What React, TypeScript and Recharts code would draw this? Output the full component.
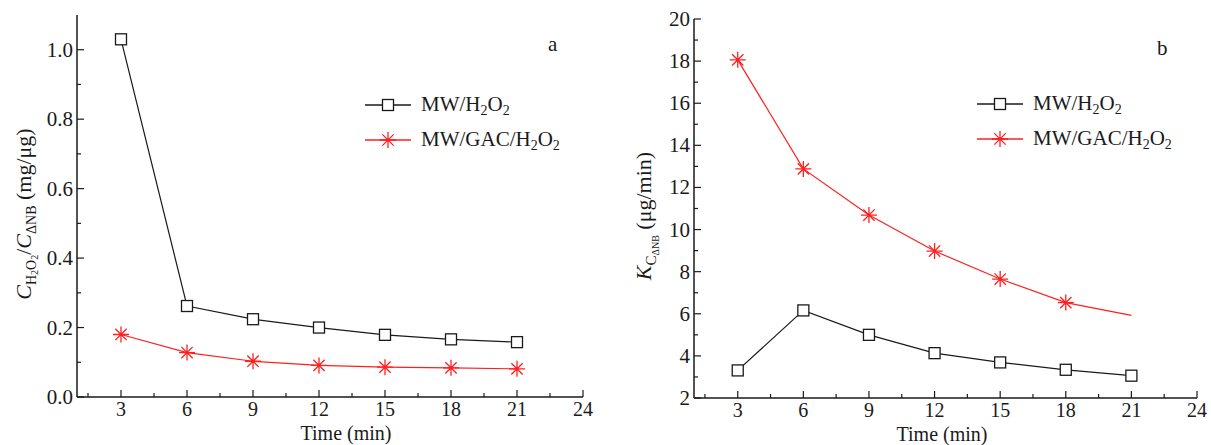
import React from 'react'
import { LineChart, Line, XAxis, YAxis, Legend } from 'recharts'

const times = [3, 6, 9, 12, 15, 18, 21]
// panel a: C(H2O2)/C(ΔNB), mg/µg
const ratioMw = [1.03, 0.262, 0.224, 0.2, 0.179, 0.166, 0.158]
const ratioGac = [0.18, 0.128, 0.103, 0.091, 0.086, 0.084, 0.081]
// panel b: K, µg/min
const rateMw = [3.31, 6.16, 5.0, 4.13, 3.69, 3.34, 3.06]
const rateGac = [18.06, 12.88, 10.69, 8.98, 7.65, 6.53, 5.92]

const timeMajor = [3, 6, 9, 12, 15, 18, 21, 24]
const timeMinor = [1.5, 4.5, 7.5, 10.5, 13.5, 16.5, 19.5, 22.5]
const ratioMajor = [0, 0.2, 0.4, 0.6, 0.8, 1.0]
const ratioMinor = [0.1, 0.3, 0.5, 0.7, 0.9]
const rateMajor = [2, 4, 6, 8, 10, 12, 14, 16, 18, 20]
const rateMinor = [3, 5, 7, 9, 11, 13, 15, 17, 19]

const FONT = '"Liberation Serif", "Times New Roman", serif'
const INK = '#1a1a1a'
const RED = '#ff1f1f'

const ratioRows = times.map((t, i) => ({ time: t, mw: ratioMw[i], gac: ratioGac[i] }))
const rateRows = times.map((t, i) => ({ time: t, mw: rateMw[i], gac: rateGac[i] }))

const allTicks = (a: number[], b: number[]) => [...a, ...b].sort((p, q) => p - q)

function makeTick(side: string, major: number[], fmt: (v: number) => string) {
  return (props: any) => {
    const { x, y, payload } = props
    const v = payload.value
    const isMajor = major.some((m) => Math.abs(m - v) < 1e-9)
    const len = isMajor ? 7 : 4
    let line
    let label = null
    if (side === 'bottom') {
      line = <line x1={x} y1={y} x2={x} y2={y - len} stroke={INK} strokeWidth={1.2} />
      if (isMajor)
        label = (
          <text x={x} y={y + 19} textAnchor="middle" fontSize={20} fontFamily={FONT} fill={INK}>
            {fmt(v)}
          </text>
        )
    } else if (side === 'left') {
      line = <line x1={x} y1={y} x2={x + len} y2={y} stroke={INK} strokeWidth={1.2} />
      if (isMajor)
        label = (
          <text x={x - 4} y={y + 7} textAnchor="end" fontSize={21} fontFamily={FONT} fill={INK}>
            {fmt(v)}
          </text>
        )
    } else if (side === 'top') {
      line = <line x1={x} y1={y} x2={x} y2={y + len - 2} stroke={INK} strokeWidth={1.2} />
    } else {
      line = <line x1={x} y1={y} x2={x - len + 2} y2={y} stroke={INK} strokeWidth={1.2} />
    }
    return (
      <g>
        {line}
        {label}
      </g>
    )
  }
}

const Square = (props: any) => {
  const { cx, cy } = props
  if (cx == null || cy == null) return <g />
  return <rect x={cx - 5.5} y={cy - 5.5} width={11} height={11} fill="#fff" stroke={INK} strokeWidth={1.3} />
}

const starPath = (cx: number, cy: number, r: number) => {
  const d = r * 0.7071
  return `M${cx - r},${cy}L${cx + r},${cy}M${cx},${cy - r}L${cx},${cy + r}M${cx - d},${cy - d}L${cx + d},${cy + d}M${cx - d},${cy + d}L${cx + d},${cy - d}`
}

const makeStar = (count: number) => (props: any) => {
  const { cx, cy, index } = props
  if (cx == null || cy == null || index >= count) return <g key={`s${index}`} />
  return <path key={`s${index}`} d={starPath(cx, cy, 8)} stroke={RED} strokeWidth={1.3} fill="none" />
}

function LegendBox() {
  const row = (marker: 'square' | 'star', color: string, text: React.ReactNode) => (
    <div style={{ display: 'flex', alignItems: 'center', height: 35 }}>
      <svg width={48} height={20}>
        <line x1={0} y1={10} x2={46} y2={10} stroke={color} strokeWidth={1.3} />
        {marker === 'square' ? (
          <rect x={17.5} y={4.5} width={11} height={11} fill="#fff" stroke={color} strokeWidth={1.3} />
        ) : (
          <path d={starPath(23, 10, 8)} stroke={color} strokeWidth={1.3} fill="none" />
        )}
      </svg>
      <span style={{ marginLeft: 8, fontFamily: FONT, fontSize: 21, color: INK, whiteSpace: 'nowrap' }}>
        {text}
      </span>
    </div>
  )
  const sub = (s: string) => (
    <sub style={{ fontSize: 14, verticalAlign: -4, lineHeight: 0 }}>{s}</sub>
  )
  return (
    <div>
      {row('square', INK, <>MW/H{sub('2')}O{sub('2')}</>)}
      {row('star', RED, <>MW/GAC/H{sub('2')}O{sub('2')}</>)}
    </div>
  )
}

const TimeTitle = (cxPage: number) => (props: any) => {
  const vb = props.viewBox
  return (
    <text x={cxPage} y={vb.y + 43} textAnchor="middle" fontSize={20} fontFamily={FONT} fill={INK}>
      Time (min)
    </text>
  )
}

const RatioTitle = () => (
  <g transform="translate(31,214) rotate(-90)">
    <text textAnchor="middle" fontSize={22} fontFamily={FONT} fill={INK}>
      <tspan fontStyle="italic">C</tspan>
      <tspan fontSize={14} dy={5}>H</tspan>
      <tspan fontSize={10} dy={2}>2</tspan>
      <tspan fontSize={14} dy={-2}>O</tspan>
      <tspan fontSize={10} dy={2}>2</tspan>
      <tspan dy={-7}>/</tspan>
      <tspan fontStyle="italic">C</tspan>
      <tspan fontSize={14} dy={5}>ΔNB</tspan>
      <tspan dy={-5}>{' (mg/μg)'}</tspan>
    </text>
  </g>
)

const RateTitle = () => (
  <g transform="translate(51,216) rotate(-90)">
    <text textAnchor="middle" fontSize={22} fontFamily={FONT} fill={INK}>
      <tspan fontStyle="italic">K</tspan>
      <tspan fontSize={15} dy={5}>C</tspan>
      <tspan fontSize={10} dy={3}>ΔNB</tspan>
      <tspan dy={-8}>{' (μg/min)'}</tspan>
    </text>
  </g>
)

const frame = { stroke: INK, strokeWidth: 1.5 }

export default function App() {
  const timeTicks = allTicks(timeMajor, timeMinor)
  return (
    <div style={{ position: 'fixed', left: 0, top: 0, width: 1211, height: 445, background: '#fff' }}>
      <div style={{ position: 'absolute', left: 0, top: 0 }}>
        <LineChart width={600} height={445} data={ratioRows} margin={{ top: 15, right: 17, bottom: 18, left: 17 }}>
          <XAxis
            dataKey="time"
            type="number"
            domain={[1, 24]}
            ticks={timeTicks}
            interval={0}
            height={30}
            tickSize={0}
            tickMargin={0}
            axisLine={frame}
            tick={makeTick('bottom', timeMajor, (v) => String(v))}
            label={TimeTitle(346)}
          />
          <XAxis
            xAxisId="top"
            orientation="top"
            type="number"
            domain={[1, 24]}
            ticks={timeTicks}
            interval={0}
            height={0}
            tickSize={0}
            tickMargin={0}
            axisLine={frame}
            tick={makeTick('top', timeMajor, (v) => String(v))}
          />
          <YAxis
            type="number"
            domain={[0, 1.1]}
            ticks={allTicks(ratioMajor, ratioMinor)}
            interval={0}
            width={60}
            tickSize={0}
            tickMargin={0}
            axisLine={frame}
            tick={makeTick('left', ratioMajor, (v) => v.toFixed(1))}
            label={<RatioTitle />}
          />
          <YAxis
            yAxisId="right"
            orientation="right"
            type="number"
            domain={[0, 1.1]}
            ticks={allTicks(ratioMajor, ratioMinor)}
            interval={0}
            width={0}
            tickSize={0}
            tickMargin={0}
            axisLine={frame}
            tick={makeTick('right', ratioMajor, (v) => v.toFixed(1))}
          />
          <Legend
            layout="vertical"
            align="center"
            verticalAlign="middle"
            wrapperStyle={{ left: 365, top: 87, width: 'auto', height: 'auto' }}
            content={() => <LegendBox />}
          />
          <Line dataKey="mw" stroke={INK} strokeWidth={1.2} dot={<Square />} activeDot={false} isAnimationActive={false} />
          <Line dataKey="gac" stroke={RED} strokeWidth={1.2} dot={makeStar(ratioGac.length)} activeDot={false} isAnimationActive={false} />
        </LineChart>
        <div style={{ position: 'absolute', left: 548, top: 32, fontFamily: FONT, fontSize: 21, color: INK }}>a</div>
      </div>
      <div style={{ position: 'absolute', left: 600, top: 0 }}>
        <LineChart width={611} height={445} data={rateRows} margin={{ top: 19, right: 14, bottom: 17, left: 34 }}>
          <XAxis
            dataKey="time"
            type="number"
            domain={[1, 24]}
            ticks={timeTicks}
            interval={0}
            height={30}
            tickSize={0}
            tickMargin={0}
            axisLine={frame}
            tick={makeTick('bottom', timeMajor, (v) => String(v))}
            label={TimeTitle(342)}
          />
          <XAxis
            xAxisId="top"
            orientation="top"
            type="number"
            domain={[1, 24]}
            ticks={timeTicks}
            interval={0}
            height={0}
            tickSize={0}
            tickMargin={0}
            axisLine={frame}
            tick={makeTick('top', timeMajor, (v) => String(v))}
          />
          <YAxis
            type="number"
            domain={[2, 20]}
            ticks={allTicks(rateMajor, rateMinor)}
            interval={0}
            width={60}
            tickSize={0}
            tickMargin={0}
            axisLine={frame}
            tick={makeTick('left', rateMajor, (v) => String(v))}
            label={<RateTitle />}
          />
          <YAxis
            yAxisId="right"
            orientation="right"
            type="number"
            domain={[2, 20]}
            ticks={allTicks(rateMajor, rateMinor)}
            interval={0}
            width={0}
            tickSize={0}
            tickMargin={0}
            axisLine={frame}
            tick={makeTick('right', rateMajor, (v) => String(v))}
          />
          <Legend
            layout="vertical"
            align="center"
            verticalAlign="middle"
            wrapperStyle={{ left: 377, top: 86, width: 'auto', height: 'auto' }}
            content={() => <LegendBox />}
          />
          <Line dataKey="mw" stroke={INK} strokeWidth={1.2} dot={<Square />} activeDot={false} isAnimationActive={false} />
          <Line dataKey="gac" stroke={RED} strokeWidth={1.2} dot={makeStar(rateGac.length - 1)} activeDot={false} isAnimationActive={false} />
        </LineChart>
        <div style={{ position: 'absolute', left: 557, top: 36, fontFamily: FONT, fontSize: 21, color: INK }}>b</div>
      </div>
    </div>
  )
}
